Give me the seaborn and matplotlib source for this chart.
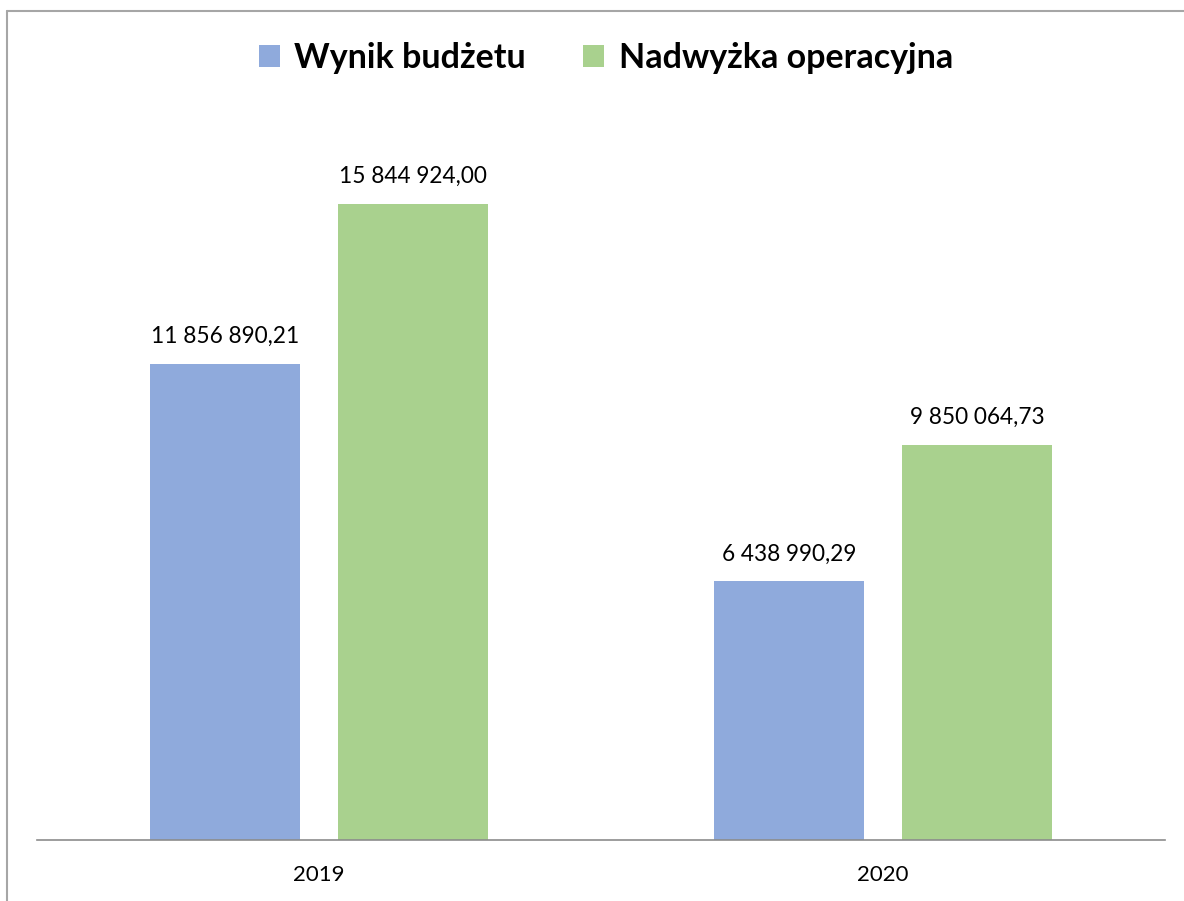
import matplotlib
matplotlib.use("Agg")
import matplotlib.pyplot as plt
import seaborn as sns
import pandas as pd
from matplotlib.patches import Patch
from matplotlib.lines import Line2D

years = ["2019", "2020"]
series = ["Wynik budżetu", "Nadwyżka operacyjna"]
wynik = [11856890.21, 6438990.29]
nadwyzka = [15844924.00, 9850064.73]
colors = ["#8faadc", "#a9d18e"]

df = pd.DataFrame({
    "Rok": years * 2,
    "Seria": [series[0]] * 2 + [series[1]] * 2,
    "Wartosc": wynik + nadwyzka,
})

sns.set_theme(style="white")
plt.rcParams["font.family"] = ["Lato", "DejaVu Sans"]
plt.rcParams["text.color"] = "#000000"

fig = plt.figure(figsize=(11.84, 9.01), dpi=100)
W, H = 1184, 901
ax = fig.add_axes([37 / W, (H - 840) / H, 1128 / W, 740 / H])

sns.barplot(data=df, x="Rok", y="Wartosc", hue="Seria", hue_order=series,
            palette=colors, width=0.667, gap=0.2, ax=ax, legend=False,
            saturation=1, edgecolor="none")

ax.set_xlim(-0.5, 1.5)
ax.set_ylim(0, 18.43e6)


def fmt(v):
    s = f"{v:,.2f}"
    return s.replace(",", " ").replace(".", ",")


for cont in ax.containers:
    labels = [fmt(b.get_height()) for b in cont]
    ax.bar_label(cont, labels=labels, padding=12, fontsize=16.3, color="#000000")

for s in ["top", "right", "left"]:
    ax.spines[s].set_visible(False)
ax.spines["bottom"].set_color("#8c8c8c")
ax.spines["bottom"].set_linewidth(1.2)
ax.set_yticks([])
ax.set_xlabel("")
ax.set_ylabel("")
ax.tick_params(axis="x", length=0, labelsize=16, pad=18, colors="#000000")

handles = [Patch(facecolor=c, edgecolor="none") for c in colors]
fig.legend(handles, series, loc="center", bbox_to_anchor=(606 / W, 1 - 58 / H),
           ncol=2, frameon=False, prop={"weight": "bold", "size": 24.5},
           labelcolor="#000000",
           handlelength=0.62, handleheight=0.62, handletextpad=0.42,
           columnspacing=1.68)

# outer chart border (left and top visible)
fig.add_artist(Line2D([7 / W, 7 / W], [0, 1 - 11 / H], transform=fig.transFigure,
                      color="#a6a6a6", lw=1.5))
fig.add_artist(Line2D([7 / W, 1], [1 - 11 / H, 1 - 11 / H], transform=fig.transFigure,
                      color="#a6a6a6", lw=1.5))

fig.savefig("out.png", dpi=100, facecolor="white")
